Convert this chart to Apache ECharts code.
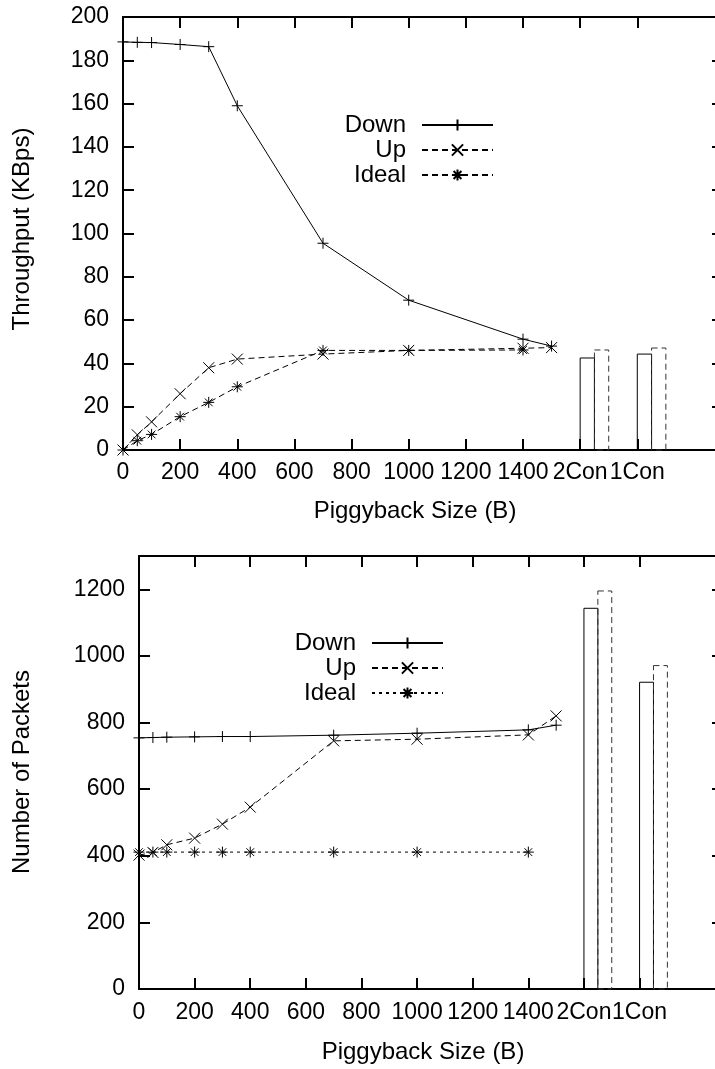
<!DOCTYPE html>
<html lang="en">
<head>
    <meta charset="UTF-8">
    <title>Piggyback</title>
    <script src="https://cdn.jsdelivr.net/npm/echarts@6/dist/echarts.min.js"></script>
    <style>
        body { margin: 0; background: #fff; }
        #top { position: absolute; left: 0; top: 0; width: 715px; height: 530px; }
        #bottom { position: absolute; left: 0; top: 530px; width: 715px; height: 539px; }
    </style>
</head>
<body>
<div id="top"></div>
<div id="bottom"></div>
<script>
    // x axis: piggyback sizes, then the two connection cases
    var xTickValues = [0, 200, 400, 600, 800, 1000, 1200, 1400, 1600, 1800];
    var xTickLabels = ['0', '200', '400', '600', '800', '1000', '1200', '1400', '2Con', '1Con'];
    var sizes = [0, 50, 100, 200, 300, 400, 700, 1000, 1400, 1500];
    var idealSizes = [0, 50, 100, 200, 300, 400, 700, 1000, 1400];
    var barCats = ['2Con', '1Con'];

    // throughput (KBps)
    var thrDown = [188.5, 188.3, 188.2, 187.3, 186.3, 159, 95.5, 69.2, 51.2, 48];
    var thrUp = [0, 7, 13, 26, 38, 42, 44.3, 46, 47, 47.3];
    var thrIdeal = [0, 4.3, 7.2, 15.4, 22, 29.2, 46, 46, 46.2];
    var thrBarDown = [42.5, 44.3];
    var thrBarUp = [46.2, 47.1];

    // number of packets
    var pktDown = [754, 755, 756, 757, 758, 758, 762, 768, 778, 792];
    var pktUp = [402, 410, 433, 453, 495, 546, 745, 750, 763, 820];
    var pktIdeal = [411, 411, 411, 411, 411, 411, 411, 411, 411];
    var pktBarDown = [1143, 921];
    var pktBarUp = [1195, 971];

    var FONT = "'Liberation Sans', Arial, Helvetica, sans-serif";
    var FS = 24;      // titles, legend
    var TICK_FS = 23; // tick labels
    var PLUS = 'path://M0,5L10,5M5,0L5,10';
    var CROSS = 'path://M0,0L10,10M10,0L0,10';
    var STAR = 'path://M0,5L10,5M5,0L5,10M1.5,1.5L8.5,8.5M8.5,1.5L1.5,8.5';
    var BAR_W = 50; // bar width in x units

    function zip(xs, ys) {
        return ys.map(function (y, i) { return [xs[i], y]; });
    }

    function barData(vals, shift) {
        return barCats.map(function (c, i) {
            var x = xTickValues[xTickLabels.indexOf(c)] + shift;
            return [x, x + BAR_W, vals[i]];
        });
    }

    function renderBar(dash) {
        return function (params, api) {
            var p0 = api.coord([api.value(0), 0]);
            var p1 = api.coord([api.value(1), api.value(2)]);
            return {
                type: 'rect',
                shape: {x: p0[0], y: p1[1], width: p1[0] - p0[0], height: p0[1] - p1[1]},
                style: {fill: 'none', stroke: dash ? '#333' : '#000', lineWidth: 1, lineDash: dash ? [6, 4] : null}
            };
        };
    }

    function lineSeries(name, data, symbol, dash) {
        return {
            name: name,
            type: 'line',
            data: data,
            symbol: symbol,
            symbolSize: 11,
            itemStyle: {color: 'none', borderColor: '#000', borderWidth: 1},
            lineStyle: {color: '#000', width: 1, type: dash || 'solid'},
            emphasis: {disabled: true},
            animation: false
        };
    }

    function legendItem(name, right, top) {
        return {
            data: [name],
            right: right,
            top: top,
            padding: 0,
            align: 'right',
            itemWidth: 71,
            itemHeight: 14,
            selectedMode: false,
            textStyle: {fontFamily: FONT, fontSize: FS, color: '#000', padding: [0, 11, 0, 0]}
        };
    }

    function makeOption(c) {
        var axisLine = {show: true, onZero: false, lineStyle: {color: '#000', width: 2}};
        var tick = {show: true, inside: true, length: 11, lineStyle: {color: '#000', width: 2}};
        var label = {fontFamily: FONT, fontSize: TICK_FS, color: '#000'};
        return {
            animation: false,
            grid: {left: c.grid[0], top: c.grid[1], width: c.grid[2], height: c.grid[3], outerBoundsMode: 'none'},
            legend: [
                legendItem('Down', c.legendRight, c.legendTop[0]),
                legendItem('Up', c.legendRight, c.legendTop[1]),
                legendItem('Ideal', c.legendRight, c.legendTop[2])
            ],
            xAxis: [{
                type: 'value', min: 0, max: 2100, position: 'bottom',
                axisLine: axisLine,
                axisTick: Object.assign({customValues: xTickValues}, tick),
                axisLabel: Object.assign({
                    customValues: xTickValues, margin: c.xMargin,
                    formatter: function (v) { return xTickLabels[xTickValues.indexOf(v)]; }
                }, label),
                splitLine: {show: false}
            }, {
                type: 'value', min: 0, max: 2100, position: 'top',
                axisLine: axisLine,
                axisTick: Object.assign({customValues: xTickValues}, tick),
                axisLabel: {show: false},
                splitLine: {show: false}
            }],
            yAxis: [{
                type: 'value', min: 0, max: c.yMax, interval: c.yStep, position: 'left',
                axisLine: axisLine, axisTick: tick,
                axisLabel: Object.assign({
                    margin: 14, showMaxLabel: c.yMax % c.yStep === 0,
                    formatter: function (v) { return String(v); }
                }, label),
                splitLine: {show: false}
            }, {
                type: 'value', min: 0, max: c.yMax, interval: c.yStep, position: 'right',
                axisLine: axisLine, axisTick: tick,
                axisLabel: {show: false},
                splitLine: {show: false}
            }],
            graphic: [{
                type: 'text', x: c.yTitle[0], y: c.yTitle[1], rotation: Math.PI / 2,
                style: {text: c.yName, font: FS + 'px ' + FONT, fill: '#000', align: 'center', verticalAlign: 'middle'}
            }, {
                type: 'text', x: c.xTitle[0], y: c.xTitle[1],
                style: {text: 'Piggyback Size (B)', font: FS + 'px ' + FONT, fill: '#000', align: 'center', verticalAlign: 'middle'}
            }],
            series: [
                lineSeries('Down', zip(sizes, c.down), PLUS),
                lineSeries('Up', zip(sizes, c.up), CROSS, [6, 4]),
                lineSeries('Ideal', zip(idealSizes, c.ideal), STAR, c.idealDash),
                {type: 'custom', renderItem: renderBar(false), data: barData(c.barDown, 0), encode: {x: [0, 1], y: 2}, silent: true},
                {type: 'custom', renderItem: renderBar(true), data: barData(c.barUp, BAR_W), encode: {x: [0, 1], y: 2}, silent: true}
            ]
        };
    }

    var topChart = echarts.init(document.getElementById('top'));
    topChart.setOption(makeOption({
        grid: [123, 17, 600, 433],
        yMax: 200, yStep: 20,
        xMargin: 11,
        down: thrDown, up: thrUp, ideal: thrIdeal, idealDash: [6, 4],
        barDown: thrBarDown, barUp: thrBarUp,
        legendRight: 221, legendTop: [113, 138, 163],
        yName: 'Throughput (KBps)', yTitle: [22, 229], xTitle: [415, 511]
    }));

    var bottomChart = echarts.init(document.getElementById('bottom'));
    bottomChart.setOption(makeOption({
        grid: [139, 26, 584, 433],
        yMax: 1300, yStep: 200,
        xMargin: 12,
        down: pktDown, up: pktUp, ideal: pktIdeal, idealDash: [3, 4],
        barDown: pktBarDown, barUp: pktBarUp,
        legendRight: 271, legendTop: [101, 126, 151],
        yName: 'Number of Packets', yTitle: [22, 242], xTitle: [423, 522]
    }));
</script>
</body>
</html>
